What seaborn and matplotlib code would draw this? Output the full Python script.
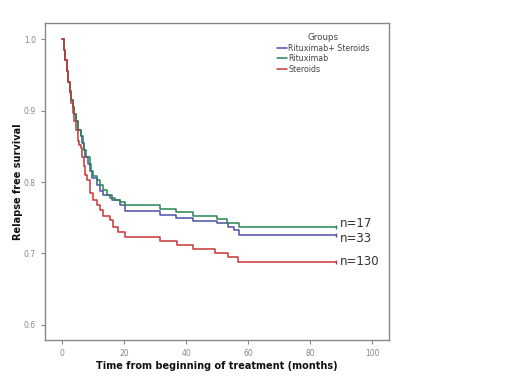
#!/usr/bin/env python
"""
Kaplan-Meier style relapse free survival curves by treatment group.
"""
# Third-party
import matplotlib

matplotlib.use("Agg")
import matplotlib.pyplot as plt  # noqa: E402
import pandas as pd  # noqa: E402
import seaborn as sns  # noqa: E402

# Data (months, survival)
GROUPS = ["Rituximab+ Steroids", "Rituximab", "Steroids"]
N_LABELS = ["n=33", "n=17", "n=130"]
COLORS = ["#4b4fa6", "#2a8455", "#c83737"]

RS_TIME = [0, 0.5, 1.0, 1.5, 2.0, 2.5, 3.0, 3.5, 4.0, 4.5, 5.0, 6.0, 6.5,
           7.0, 7.5, 8.5, 9.0, 9.7, 11.2, 12.3, 13.3, 16.0, 18.7, 20.3,
           31.6, 36.8, 42.4, 49.9, 53.4, 55.5, 57.0, 88.4]
RS_SURV = [1.0, 0.985, 0.97, 0.955, 0.94, 0.927, 0.915, 0.905, 0.895,
           0.885, 0.873, 0.865, 0.855, 0.845, 0.835, 0.825, 0.815, 0.805,
           0.796, 0.787, 0.782, 0.775, 0.768, 0.7594, 0.7535, 0.75, 0.746,
           0.742, 0.737, 0.733, 0.7265, 0.7265]

R_TIME = [0, 0.5, 1.0, 1.5, 2.0, 2.5, 3.0, 3.5, 4.0, 4.5, 5.0, 6.2, 6.7,
          7.2, 7.7, 9.0, 9.5, 10.0, 11.2, 12.3, 13.3, 14.5, 15.5, 17.1,
          18.7, 20.3, 31.6, 36.8, 42.4, 49.9, 53.1, 57.0, 88.4]
R_SURV = [1.0, 0.985, 0.97, 0.955, 0.94, 0.927, 0.915, 0.905, 0.895, 0.885,
          0.873, 0.865, 0.855, 0.845, 0.835, 0.825, 0.815, 0.808, 0.803,
          0.796, 0.789, 0.782, 0.778, 0.775, 0.772, 0.768, 0.762, 0.758,
          0.753, 0.748, 0.743, 0.7375, 0.7375]

S_TIME = [0, 0.5, 1.0, 1.5, 2.0, 2.5, 3.0, 3.5, 4.0, 4.5, 5.0, 5.5, 6.0,
          6.5, 7.0, 7.5, 8.0, 9.0, 10.1, 11.2, 12.3, 13.3, 15.5, 16.5,
          18.2, 20.3, 31.6, 37.0, 42.4, 49.4, 53.6, 56.9, 88.4]
S_SURV = [1.0, 0.985, 0.97, 0.955, 0.94, 0.925, 0.91, 0.897, 0.885, 0.873,
          0.858, 0.852, 0.847, 0.835, 0.822, 0.81, 0.803, 0.785, 0.775,
          0.768, 0.761, 0.752, 0.747, 0.7375, 0.7305, 0.7235, 0.718, 0.712,
          0.706, 0.701, 0.6955, 0.6885, 0.6885]

X_TICKS = [0, 20, 40, 60, 80, 100]
Y_TICKS = [0.6, 0.7, 0.8, 0.9, 1.0]


def build_frame():
    frames = []
    for name, t, s in zip(GROUPS, [RS_TIME, R_TIME, S_TIME],
                          [RS_SURV, R_SURV, S_SURV]):
        frames.append(pd.DataFrame({"group": name, "time": t, "surv": s}))
    return pd.concat(frames, ignore_index=True)


def main():
    sns.set_style("white")
    plt.rcParams["font.family"] = ["DejaVu Sans"]

    data = build_frame()

    fig = plt.figure(figsize=(5.2, 3.81), dpi=100)
    ax = fig.add_axes([45 / 520, 1 - 340 / 381, 344 / 520, 317 / 381])

    sns.lineplot(
        data=data, x="time", y="surv", hue="group", hue_order=GROUPS,
        palette=COLORS, estimator=None, sort=False, drawstyle="steps-post",
        linewidth=1.1, ax=ax,
    )

    # censor ticks and n= labels at the end of each curve
    for surv, color, label, dy in zip(
        [RS_SURV, R_SURV, S_SURV], COLORS, N_LABELS, [-3, 2, 0]
    ):
        ax.plot([RS_TIME[-1]], [surv[-1]], marker="|", markersize=3,
                color=color, markeredgewidth=1)
        ax.annotate(label, (RS_TIME[-1], surv[-1]), xytext=(3, dy),
                    textcoords="offset points", va="center", ha="left",
                    fontsize=8.5, color="#333333")

    ax.set_xlim(-5.5, 105.5)
    ax.set_ylim(0.579, 1.0224)
    ax.set_xticks(X_TICKS)
    ax.set_yticks(Y_TICKS)
    ax.set_xticklabels([str(t) for t in X_TICKS])
    ax.set_yticklabels([f"{t:.1f}" for t in Y_TICKS])
    ax.tick_params(axis="both", labelsize=5.5, labelcolor="#888888",
                   color="#888888", length=3, width=0.8, direction="out",
                   left=True, bottom=True)
    for spine in ax.spines.values():
        spine.set_color("#888888")
        spine.set_linewidth(1.0)

    ax.set_xlabel("Time from beginning of treatment (months)",
                  fontsize=7, fontweight="bold", color="#111111", labelpad=2)
    ax.set_ylabel("Relapse free survival", fontsize=7, fontweight="bold",
                  color="#111111", labelpad=0.5)

    handles, labels = ax.get_legend_handles_labels()
    ax.legend(
        handles, labels, title="Groups", loc="upper left",
        bbox_to_anchor=(277 / 520, 1 - 33 / 381),
        bbox_transform=fig.transFigure, frameon=False, fontsize=5.7,
        title_fontsize=6.3, handlelength=1.2, handletextpad=0.25,
        labelspacing=0.2, borderaxespad=0, borderpad=0,
    )
    leg = ax.get_legend()
    leg.get_title().set_color("#444444")
    for text in leg.get_texts():
        text.set_color("#444444")

    fig.savefig("out.png", dpi=100)


if __name__ == "__main__":
    main()
